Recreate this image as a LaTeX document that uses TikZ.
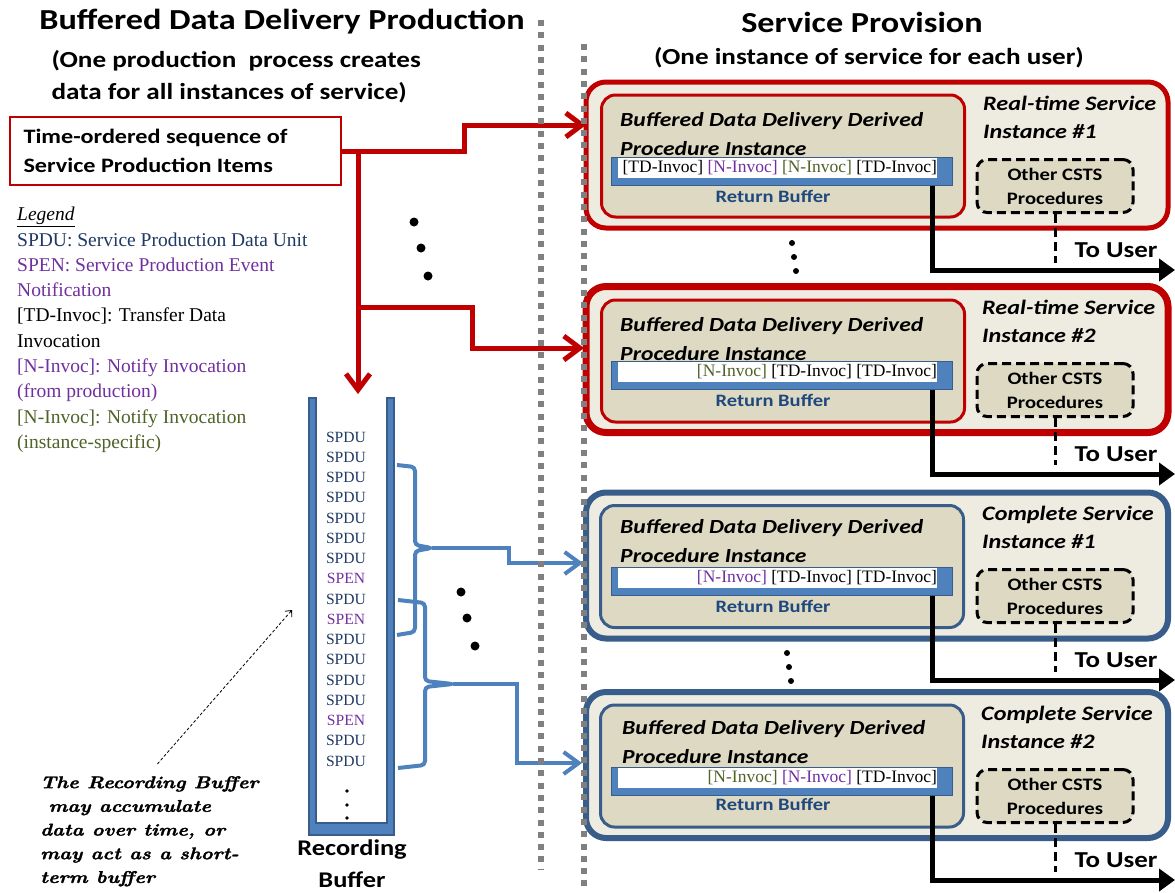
\documentclass[tikz,border=0pt]{standalone}
\usepackage{fontspec}
\usepackage{tikz}
\usetikzlibrary{arrows.meta}

\newfontfamily\calfont[FakeStretch=1.18]{Carlito}
\newfontfamily\timesfont{Liberation Serif}
\newfontfamily\notefont[Extension=.otf, FakeStretch=1.18, FakeBold=1.5]{lmroman10-bolditalic}

\definecolor{pptred}{RGB}{192,0,0}
\definecolor{pptbeige}{RGB}{238,236,225}
\definecolor{ppttan}{RGB}{221,217,195}
\definecolor{pptblue}{RGB}{79,129,189}
\definecolor{pptnavy}{RGB}{56,93,138}
\definecolor{ppttext}{RGB}{31,73,125}
\definecolor{spdublue}{RGB}{31,56,100}
\definecolor{pptpurple}{RGB}{112,48,160}
\definecolor{pptgreen}{RGB}{79,98,40}
\definecolor{pptgray}{RGB}{128,128,128}

\tikzset{
  heading/.style={font=\calfont\bfseries\fontsize{29}{34}\selectfont},
  subheading/.style={font=\calfont\bfseries\fontsize{23}{32}\selectfont, align=left},
  sepline/.style={draw=pptgray, line width=6pt, dash pattern=on 6pt off 6.3pt},
  seqbox/.style={draw=pptred, line width=2pt, minimum width=331pt, minimum height=68pt, inner sep=0pt},
  seqtext/.style={font=\calfont\bfseries\fontsize{20.5}{29}\selectfont, align=left, anchor=west},
  redflow/.style={draw=pptred, line width=5pt, -{Straight Barb[length=16pt,width=24pt]}},
  blueflow/.style={draw=pptblue, line width=4pt, -{Straight Barb[length=15pt,width=22pt]}},
  brace/.style={draw=pptblue, line width=4pt, rounded corners=4pt},
  legendtext/.style={font=\timesfont\fontsize{19.5}{25.3}\selectfont, align=left, inner sep=0pt, anchor=north west},
  item/.style={font=\timesfont\fontsize{15.6}{18}\selectfont},
  buflabel/.style={font=\calfont\bfseries\fontsize{22.4}{32}\selectfont, align=center},
  note/.style={font=\notefont\fontsize{17}{23.7}\selectfont, align=left, inner sep=0pt, anchor=north west},
  notearrow/.style={draw, line width=0.8pt, dash pattern=on 3pt off 2pt, -{Straight Barb[length=5pt,width=9pt]}},
  rtbox/.style={rounded corners=20pt, fill=pptbeige, draw=pptred, line width=5pt, minimum width=582pt, minimum height=146pt, inner sep=0pt},
  csbox/.style={rtbox, draw=pptnavy, line width=6pt},
  procbox/.style={rounded corners=14pt, fill=ppttan, line width=3pt, minimum width=363pt, minimum height=122pt, inner sep=0pt},
  proctitle/.style={font=\calfont\bfseries\itshape\fontsize{20}{29}\selectfont, align=left, anchor=west, inner sep=0pt},
  insttitle/.style={proctitle, font=\calfont\bfseries\itshape\fontsize{20.5}{28}\selectfont},
  retbar/.style={fill=pptblue, draw=pptnavy, line width=1pt, minimum width=341pt, minimum height=28pt, inner sep=0pt},
  retwhite/.style={fill=white, inner sep=0pt, minimum height=20pt, minimum width=319pt},
  retitems/.style={anchor=east, inner sep=0pt, font=\timesfont\fontsize{17.5}{20}\selectfont},
  retlabel/.style={text=ppttext, font=\calfont\bfseries\fontsize{17.4}{20}\selectfont},
  otherbox/.style={rounded corners=10pt, fill=ppttan, draw, line width=3pt, dash pattern=on 9pt off 5pt, minimum width=156pt, minimum height=53pt, inner sep=0pt, align=center, font=\calfont\bfseries\fontsize{17.5}{24}\selectfont},
  outflow/.style={draw, line width=5pt, -{Triangle[length=16pt,width=22pt]}},
  tolink/.style={draw, line width=3pt, dash pattern=on 9pt off 5pt},
  userlabel/.style={font=\calfont\bfseries\fontsize{22.8}{24}\selectfont}
}

\begin{document}
\begin{tikzpicture}[x=1pt, y=-1pt]
\useasboundingbox (0,0) rectangle (1175,892);

\node[heading] (prodtitle) at (282,22) {Buffered Data Delivery Production};
\node[subheading, anchor=west] (prodnote) at (48,77) {(One production\ \ process creates\\data for all instances of service)};
\node[heading] (provtitle) at (862,22) {Service Provision};
\node[subheading] (provnote) at (869,58) {(One instance of service for each user)};

\node[seqbox] (seq) at (175,151) {};
\node[seqtext] (seqtxt) at (20,151) {Time-ordered sequence of\\Service Production Items};

\node[legendtext] (legend) at (17,207) {\underline{\itshape Legend}\\
  \textcolor{spdublue}{SPDU: Service Production Data Unit}\\
  \textcolor{pptpurple}{SPEN: Service Production Event}\\
  \textcolor{pptpurple}{Notification}\\
  \textcolor{black}{[TD-Invoc]: Transfer Data}\\
  Invocation\\
  \textcolor{pptpurple}{[N-Invoc]: Notify Invocation}\\
  \textcolor{pptpurple}{(from production)}\\
  \textcolor{pptgreen}{[N-Invoc]: Notify Invocation}\\
  \textcolor{pptgreen}{(instance-specific)}};

\fill[pptblue, draw=pptnavy, line width=1.2pt] (309,398) -- (309,835) -- (394,835) -- (394,398)
  -- (387,398) -- (387,823) -- (316,823) -- (316,398) -- cycle;
\foreach \i/\w/\c in {0/SPDU/spdublue, 1/SPDU/spdublue, 2/SPDU/spdublue, 3/SPDU/spdublue,
    4/SPDU/spdublue, 5/SPDU/spdublue, 6/SPDU/spdublue, 7/SPEN/pptpurple, 8/SPDU/spdublue,
    9/SPEN/pptpurple, 10/SPDU/spdublue, 11/SPDU/spdublue, 12/SPDU/spdublue, 13/SPDU/spdublue,
    14/SPEN/pptpurple, 15/SPDU/spdublue, 16/SPDU/spdublue}
  \node[item, text=\c] (bi\i) at (346,{437+20.25*\i}) {\w};
\fill (347,791) circle (1.8pt) (347,805) circle (1.8pt) (347,818) circle (1.8pt);
\node[buflabel] (reclabel) at (352,864) {Recording\\Buffer};

\node[note] (note) at (40,776) {The Recording Buffer\\\ may accumulate\\data over time, or\\may act as a short-\\term buffer};
\coordinate (notetip) at (292,610);
\draw[notearrow] (note.north) ++(8,-12) -- (notetip);

% Real-time Service Instance #1
\node[rtbox] (rt1) at (877,155) {};
\node[procbox, draw=pptred] (bd1) at (783,156) {};
\node[proctitle] (bdt1) at (620,134) {Buffered Data Delivery Derived\\Procedure Instance};
\node[retbar] (rb1) at (781.5,171) {};
\node[retwhite] (rw1) at (777.5,168) {};
\node[retitems] (rq1) at (rw1.east) {[TD-Invoc] \textcolor{pptpurple}{[N-Invoc]} \textcolor{pptgreen}{[N-Invoc]} [TD-Invoc]};
\node[retlabel] (rl1) at (773,196) {Return Buffer};
\node[insttitle] (it1) at (983,117) {Real-time Service\\Instance \#1};
\node[otherbox] (oc1) at (1055,186) {Other CSTS\\Procedures};
\coordinate (u1) at (1175,270);
\draw[outflow] ([xshift=-20pt]rb1.south east) |- (u1);
\draw[tolink] (oc1.south) -- ++(0,49);
\node[userlabel] (tu1) at (1116,250) {To User};

% Real-time Service Instance #2
\node[rtbox, line width=7pt] (rt2) at (877,359.5) {};
\node[procbox, draw=pptred] (bd2) at (783,361) {};
\node[proctitle] (bdt2) at (620,339) {Buffered Data Delivery Derived\\Procedure Instance};
\node[retbar] (rb2) at (781.5,375) {};
\node[retwhite] (rw2) at (777.5,372) {};
\node[retitems] (rq2) at (rw2.east) {\textcolor{pptgreen}{[N-Invoc]} [TD-Invoc] [TD-Invoc]};
\node[retlabel] (rl2) at (773,400) {Return Buffer};
\node[insttitle] (it2) at (982,321) {Real-time Service\\Instance \#2};
\node[otherbox] (oc2) at (1055,390) {Other CSTS\\Procedures};
\coordinate (u2) at (1175,474);
\draw[outflow] ([xshift=-20pt]rb2.south east) |- (u2);
\draw[tolink] (oc2.south) -- ++(0,47);
\node[userlabel] (tu2) at (1116,454) {To User};

% Complete Service Instance #1
\node[csbox] (cs1) at (877,565.5) {};
\node[procbox, draw=pptnavy] (bd3) at (782,566.5) {};
\node[proctitle] (bdt3) at (620,541.5) {Buffered Data Delivery Derived\\Procedure Instance};
\node[retbar] (rb3) at (781.5,581) {};
\node[retwhite] (rw3) at (777.5,578) {};
\node[retitems] (rq3) at (rw3.east) {\textcolor{pptpurple}{[N-Invoc]} [TD-Invoc] [TD-Invoc]};
\node[retlabel] (rl3) at (773,606) {Return Buffer};
\node[insttitle] (it3) at (982,527) {Complete Service\\Instance \#1};
\node[otherbox] (oc3) at (1055,596) {Other CSTS\\Procedures};
\coordinate (u3) at (1175,680);
\draw[outflow] ([xshift=-20pt]rb3.south east) |- (u3);
\draw[tolink] (oc3.south) -- ++(0,48);
\node[userlabel] (tu3) at (1116,660) {To User};

% Complete Service Instance #2
\node[csbox] (cs2) at (877,765) {};
\node[procbox, draw=pptnavy] (bd4) at (782,766) {};
\node[proctitle] (bdt4) at (622,742.5) {Buffered Data Delivery Derived\\Procedure Instance};
\node[retbar] (rb4) at (781.5,781) {};
\node[retwhite] (rw4) at (777.5,778) {};
\node[retitems] (rq4) at (rw4.east) {\textcolor{pptgreen}{[N-Invoc]} \textcolor{pptpurple}{[N-Invoc]} [TD-Invoc]};
\node[retlabel] (rl4) at (773,804) {Return Buffer};
\node[insttitle] (it4) at (981,727) {Complete Service\\Instance \#2};
\node[otherbox] (oc4) at (1055,796) {Other CSTS\\Procedures};
\coordinate (u4) at (1175,880);
\draw[outflow] ([xshift=-20pt]rb4.south east) |- (u4);
\draw[tolink] (oc4.south) -- ++(0,48);
\node[userlabel] (tu4) at (1116,860) {To User};

\coordinate (in1) at (586,125);
\coordinate (in2) at (584,348);
\coordinate (split) at (358,151);
\coordinate (fork) at (358,307);
\coordinate (rbtop) at (358,394);
\draw[redflow] (seq.east) -- (464,151) |- (in1);
\draw[redflow] (split) -- (rbtop);
\draw[redflow] (fork) -| (472,348) -- (in2);

\draw[brace] (397,465) -- (415,467) -- (415,545) -- (432,548) -- (415,551) -- (415,632) -- (397,635);
\draw[brace] (398,600) -- (425,603) -- (425,681) -- (453,684) -- (425,687) -- (425,765) -- (398,768);
\coordinate (br1) at (432,548);
\coordinate (br2) at (453,684);
\coordinate (in3) at (583,563);
\coordinate (in4) at (582,763);
\draw[blueflow] (br1) -- (509,548) |- (in3);
\draw[blueflow] (br2) -- (517,684) |- (in4);

\fill (414,222) circle (4.5pt) (421,248) circle (4.5pt) (428,276) circle (4.5pt);
\fill (461,592) circle (4.5pt) (467,618) circle (4.5pt) (475,646) circle (4.5pt);
\fill (792,243) circle (3pt) (794,257) circle (3pt) (796,271) circle (3pt);
\fill (787,653) circle (3pt) (789,667) circle (3pt) (791,681) circle (3pt);

\draw[sepline] (541,20) -- (541,870);
\draw[sepline] (584,44) -- (584,892);
\end{tikzpicture}
\end{document}
